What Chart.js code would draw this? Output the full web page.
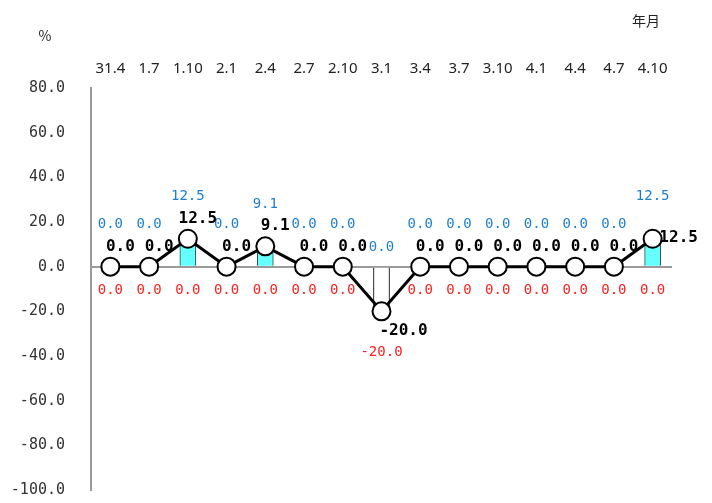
<!DOCTYPE html>
<html>
<head>
<meta charset="utf-8">
<script src="https://cdn.jsdelivr.net/npm/chart.js@4/dist/chart.umd.min.js"></script>
<style>
    html, body { margin: 0; padding: 0; background: #fff; }
    #wrap { position: relative; width: 712px; height: 503px; }
</style>
</head>
<body>
<div id="wrap"><canvas id="rateChart" width="712" height="503"></canvas></div>
<script>
// Period labels (year.month) along the top
const categories = ['31.4', '1.7', '1.10', '2.1', '2.4', '2.7', '2.10', '3.1', '3.4', '3.7', '3.10', '4.1', '4.4', '4.7', '4.10'];

// Net value (line), positive part (cyan bars), negative part (white bars)
const netValues = [0, 0, 12.5, 0, 9.1, 0, 0, -20, 0, 0, 0, 0, 0, 0, 12.5];
const upValues = [0, 0, 12.5, 0, 9.1, 0, 0, 0, 0, 0, 0, 0, 0, 0, 12.5];
const downValues = [0, 0, 0, 0, 0, 0, 0, -20, 0, 0, 0, 0, 0, 0, 0];

// Y axis range
const yMin = -100;
const yMax = 80;
const yStep = 20;

const MONO = '"DejaVu Sans Mono", "Liberation Mono", monospace';

// Value labels + corner titles
const labelPlugin = {
    id: 'valueLabels',
    afterDatasetsDraw(chart) {
        const c = chart.ctx;
        const yScale = chart.scales.y;
        const xScale = chart.scales.x;
        c.save();
        c.textAlign = 'center';
        c.textBaseline = 'middle';

        // blue labels (positive part)
        c.font = '14px ' + MONO;
        c.fillStyle = '#1E7FD0';
        upValues.forEach((v, i) => {
            const x = xScale.getPixelForValue(i);
            const top = yScale.getPixelForValue(v);
            const off = downValues[i] < 0 ? 19 : 42;
            c.fillText(v.toFixed(1), x, top - off);
        });

        // red labels (negative part)
        c.fillStyle = '#FF2020';
        downValues.forEach((v, i) => {
            const x = xScale.getPixelForValue(i);
            const bottom = yScale.getPixelForValue(v);
            const off = v < 0 ? 41 : 24;
            c.fillText(v.toFixed(1), x, bottom + off);
        });

        // black labels (net value)
        c.font = 'bold 16px ' + MONO;
        c.fillStyle = '#000';
        const meta = chart.getDatasetMeta(2);
        meta.data.forEach((pt, i) => {
            const v = netValues[i];
            let dx = 10, dy = -20;
            if (v < 0) { dx = 22; dy = 20; }
            if (i === netValues.length - 1) { dx = 26; dy = -1; }
            c.fillText(v.toFixed(1), pt.x + dx, pt.y + dy);
        });

        // corner titles
        c.font = '14px "Noto Sans CJK JP", "Noto Sans", sans-serif';
        c.fillStyle = '#222';
        c.fillText('%', 45, 36);
        c.fillText('年月', 646, 21);
        c.restore();
    }
};

const ctx = document.getElementById('rateChart');
const rateChart = new Chart(ctx, {
    type: 'bar',
    data: {
        labels: categories,
        datasets: [
            {
                type: 'bar',
                label: 'up',
                data: upValues.map(v => v || null),
                backgroundColor: '#66FFFF',
                borderColor: '#1F4F4F',
                borderWidth: 1,
                barThickness: 16,
                grouped: false,
                order: 2
            },
            {
                type: 'bar',
                label: 'down',
                data: downValues.map(v => v || null),
                backgroundColor: '#FFFFFF',
                borderColor: '#000000',
                borderWidth: 1,
                barThickness: 16,
                grouped: false,
                order: 2
            },
            {
                type: 'line',
                label: 'net',
                data: netValues,
                borderColor: '#000',
                borderWidth: 3,
                tension: 0,
                pointRadius: 9,
                pointBackgroundColor: '#fff',
                pointBorderColor: '#000',
                pointBorderWidth: 2,
                order: 0
            }
        ]
    },
    options: {
        responsive: false,
        animation: false,
        layout: { padding: { left: 10, right: 40, top: 0, bottom: 13 } },
        plugins: {
            legend: { display: false },
            tooltip: { enabled: false }
        },
        scales: {
            x: {
                position: 'top',
                offset: true,
                grid: { display: false },
                border: { display: false },
                ticks: {
                    color: '#222',
                    padding: 2,
                    maxRotation: 0,
                    autoSkip: false,
                    font: { family: '"Noto Sans", sans-serif', size: 15 }
                },
                afterFit: function (scale) { scale.height = 88; }
            },
            y: {
                min: yMin,
                max: yMax,
                ticks: {
                    stepSize: yStep,
                    color: '#333',
                    padding: 26,
                    font: { family: MONO, size: 15 },
                    callback: function (value) { return value.toFixed(1); }
                },
                grid: {
                    drawTicks: false,
                    lineWidth: 2,
                    color: function (c) { return c.tick && c.tick.value === 0 ? '#9a9a9a' : 'transparent'; }
                },
                border: { display: true, color: '#9a9a9a', width: 2 },
                afterFit: function (scale) {
                    scale.width = 81;
                    scale.paddingTop = 0;
                    scale.paddingBottom = 0;
                }
            }
        }
    },
    plugins: [labelPlugin]
});
</script>
</body>
</html>
